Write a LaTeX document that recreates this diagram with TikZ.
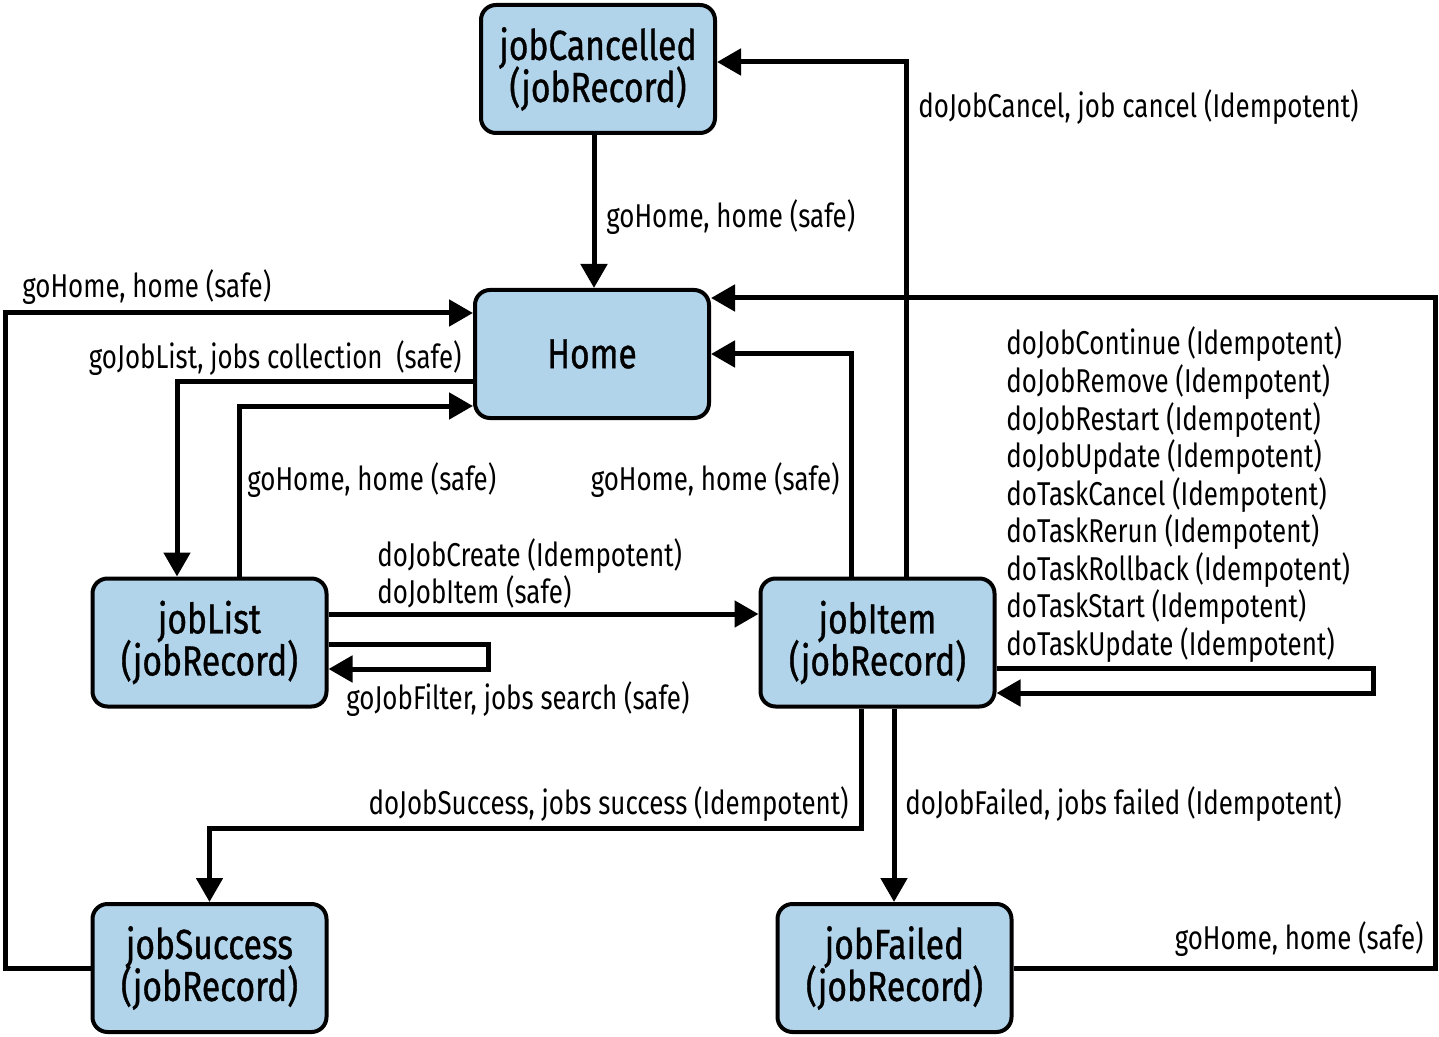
\documentclass[tikz,border=0pt]{standalone}
\usepackage{fontspec}
\setmainfont[FakeStretch=0.785]{Fira Sans}
\newfontfamily\boxfam[FakeStretch=0.8,FakeBold=0.8]{Fira Sans}
\newcommand\myboxfont{\boxfam\fontsize{21}{21}\selectfont\lineskiplimit=-20pt\relax\lineskip=0pt\relax}
\usetikzlibrary{arrows.meta}
\definecolor{boxblue}{HTML}{B2D4EA}
\begin{document}
\begin{tikzpicture}[x=0.5pt,y=-0.5pt,
  st/.style={draw, line width=2pt, rounded corners=7.5pt, fill=boxblue,
    minimum width=117pt, minimum height=64pt, align=center, inner sep=0pt,
    font=\myboxfont},
  tx/.style={yshift=-1pt},
  arr/.style={line width=2.5pt, -{Triangle[length=12pt,width=13pt]}},
  lbl/.style={font=\fontsize{16.5}{18.75}\selectfont, inner sep=0pt}]
\useasboundingbox (0,0) rectangle (1439,1037);
% nodes
\node[st] (jobCancelled) at (598,69) {jobCancelled\\(jobRecord)};
\node[st] (Home) at (592,354) {Home};
\node[st] (jobList) at (209.5,642.5) {jobList\\(jobRecord)};
\node[st] (jobItem) at (877.5,642.5) {jobItem\\(jobRecord)};
\node[st] (jobSuccess) at (209.5,968) {jobSuccess\\(jobRecord)};
\node[st] (jobFailed) at (894.5,968) {jobFailed\\(jobRecord)};
% helper coordinates
\coordinate (c0) at (594,200);
\coordinate (c1) at (906,62);
\coordinate (c2) at (5,313);
\coordinate (c3) at (177,382);
\coordinate (c4) at (239,406);
\coordinate (c5) at (851,354);
\coordinate (c6) at (1435,298);
\coordinate (c7) at (500,614);
\coordinate (c8) at (488,644);
\coordinate (c9) at (488,669);
\coordinate (c10) at (1373,668);
\coordinate (c11) at (1373,693);
\coordinate (c12) at (861,828);
\coordinate (c14) at (894,800);
% connectors
\draw[arr] (jobCancelled.south -| c0) -- (Home.north -| c0);
\draw[arr] (jobItem.north -| c1) |- (jobCancelled.east |- c1);
\draw[arr] (jobSuccess.west) -| (c2) -- (Home.west |- c2);
\draw[arr] (Home.west |- c3) -| (jobList.north -| c3);
\draw[arr] (jobList.north -| c4) |- (Home.west |- c4);
\draw[arr] (jobItem.north -| c5) |- (Home.east);
\draw[arr] (jobFailed.east) -| (c6) -- (Home.east |- c6);
\draw[arr] (jobList.east |- c7) -- (jobItem.west |- c7);
\draw[arr] (jobList.east |- c8) -- (c8) -- (c9) -- (jobList.east |- c9);
\draw[arr] (jobItem.east |- c10) -- (c10) -- (c11) -- (jobItem.east |- c11);
\draw[arr] (jobItem.south -| c12) |- (jobSuccess.north |- c12) -- (jobSuccess.north);
\draw[arr] (jobItem.south -| c14) -- (jobFailed.north -| c14);
% labels
\node[lbl, anchor=base west] (l1) at (606,228) {goHome, home (safe)};
\node[lbl, anchor=base west] (l2) at (918,118) {doJobCancel, job cancel (Idempotent)};
\node[lbl, anchor=base west] (l3) at (22,298) {goHome, home (safe)};
\node[lbl, anchor=base east] (l4) at (462,369) {goJobList, jobs collection\ \ (safe)};
\node[lbl, anchor=base west] (l5) at (247,490) {goHome, home (safe)};
\node[lbl, anchor=base east] (l6) at (840,490) {goHome, home (safe)};
\node[lbl, anchor=base west] (l7) at (377,566) {doJobCreate (Idempotent)};
\node[lbl, anchor=base west] (l8) at (377,603) {doJobItem (safe)};
\node[lbl, anchor=base west] (l9) at (346,709) {goJobFilter, jobs search (safe)};
\foreach \t [count=\i from 0] in {doJobContinue,doJobRemove,doJobRestart,doJobUpdate,doTaskCancel,doTaskRerun,doTaskRollback,doTaskStart,doTaskUpdate}
  \node[lbl, anchor=base west] (m\i) at (1006,355+37.5*\i) {\t\ (Idempotent)};
\node[lbl, anchor=base east] (l10) at (849,814) {doJobSuccess, jobs success (Idempotent)};
\node[lbl, anchor=base west] (l11) at (905,814) {doJobFailed, jobs failed (Idempotent)};
\node[lbl, anchor=base east] (l12) at (1424,949) {goHome, home (safe)};
\end{tikzpicture}
\end{document}
